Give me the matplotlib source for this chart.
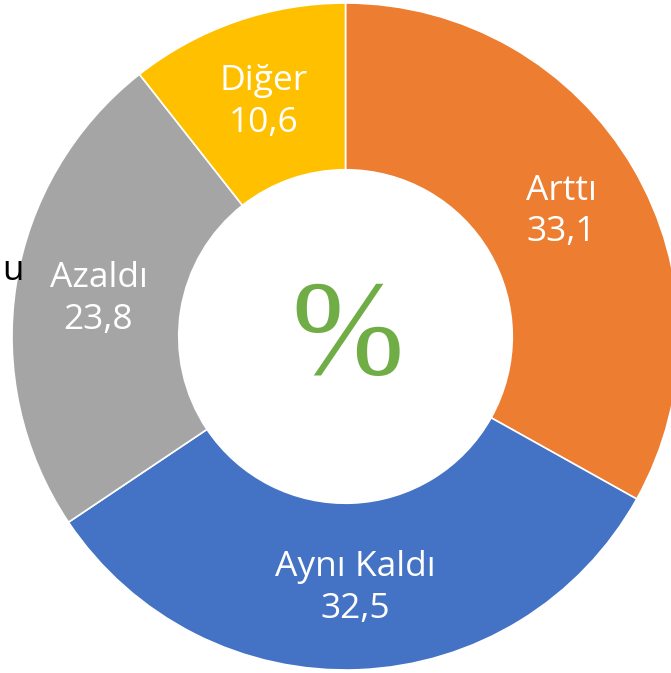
import numpy as np
import matplotlib
matplotlib.use("Agg")
import matplotlib.pyplot as plt

# data (clockwise from 12 o'clock)
labels = ["Arttı", "Aynı Kaldı", "Azaldı", "Diğer"]
values = [33.1, 32.5, 23.8, 10.6]
colors = ["#ED7D31", "#4472C4", "#A5A5A5", "#FFC000"]

W, H = 671, 673
cx, cy, R = 345.5, 336.5, 333.5   # pixel centre / radius

fig = plt.figure(figsize=(W / 100, H / 100), dpi=100)
ax = fig.add_axes([0, 0, 1, 1])
wedges, _ = ax.pie(values, colors=colors, startangle=90, counterclock=False,
                   radius=1, wedgeprops=dict(width=0.5, edgecolor="white", linewidth=1.2))
ax.set_xlim(-cx / R, (W - cx) / R)
ax.set_ylim(-(H - cy) / R, cy / R)
ax.set_aspect("auto")
ax.axis("off")

for w, lab, v in zip(wedges, labels, values):
    mid = np.deg2rad((w.theta1 + w.theta2) / 2)
    ax.text(0.75 * np.cos(mid), 0.75 * np.sin(mid) - 0.005,
            lab + "\n" + f"{v:.1f}".replace(".", ","),
            ha="center", va="center", color="white", fontsize=25.5,
            family="Open Sans", linespacing=1.3)

ax.text(0.005, -0.015, "%", ha="center", va="center", color="#70AD47",
        fontsize=97, family="Liberation Serif")

# cut-off text at the left edge
fig.text(2 / W, 1 - 271 / H, "u", ha="left", va="center", color="black",
         fontsize=25, family="Open Sans")

fig.savefig("out.png", dpi=100)
